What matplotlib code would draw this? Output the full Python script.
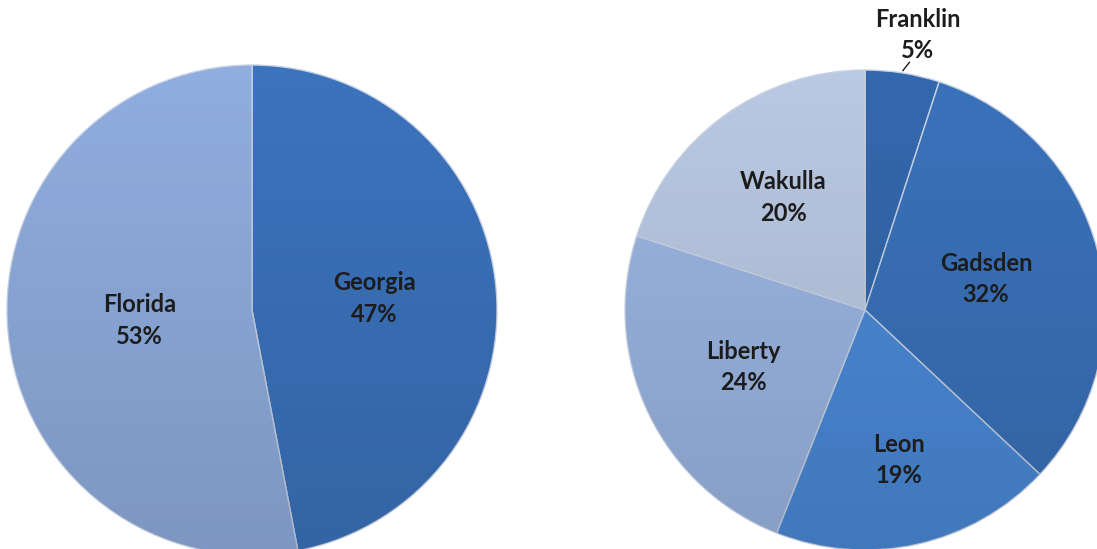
import numpy as np
import matplotlib
matplotlib.use('Agg')
import matplotlib.pyplot as plt
from matplotlib.patches import Circle

plt.rcParams['font.family'] = ['Lato', 'DejaVu Sans']

# data
states = ['Georgia', 'Florida']
state_pct = [47, 53]
counties = ['Franklin', 'Gadsden', 'Leon', 'Liberty', 'Wakulla']
county_pct = [5, 32, 19, 24, 20]

# styles
state_colors = ['#3b73bd', '#8fadde']
county_colors = ['#3468ad', '#3a72ba', '#4b8ad8', '#9bb6e2', '#b9c9e2']
state_label_r = [0.50, 0.46]
county_label_r = [1.15, 0.52, 0.64, 0.56, 0.58]

W, H = 1097, 549
fig = plt.figure(figsize=(W / 100, H / 100), dpi=100)


def pie_axes(cx, cy, r):
    ax = fig.add_axes([(cx - r) / W, (H - cy - r) / H, 2 * r / W, 2 * r / H])
    return ax


def draw_pie(ax, names, vals, colors, label_r):
    wedges, _ = ax.pie(vals, colors=colors, startangle=90, counterclock=False,
                       radius=1.0, wedgeprops=dict(edgecolor='#c9d3e6', linewidth=1.0))
    ax.set_aspect('equal')
    ax.axis('off')
    # soft vertical shading like the office style
    grad = np.linspace(0, 1, 256)[:, None]
    shade = np.zeros((256, 1, 4))
    shade[..., 3] = 0.13 * grad
    im = ax.imshow(shade, extent=[-1, 1, -1, 1], origin='upper', aspect='auto', zorder=2)
    im.set_clip_path(Circle((0, 0), 1.0, transform=ax.transData))
    ax.set_xlim(-1, 1)
    ax.set_ylim(-1, 1)
    for w, name, v, rr in zip(wedges, names, vals, label_r):
        ang = np.deg2rad((w.theta1 + w.theta2) / 2)
        c, s = np.cos(ang), np.sin(ang)
        x, y = rr * c, rr * s
        if rr > 1:
            # outside label with a short leader line
            x += 0.04
            y += 0.01
            ax.plot([1.01 * c, 1.055 * c + 0.02], [1.01 * s, 1.045 * s],
                    color='#1c1c1c', lw=1, zorder=5, clip_on=False)
        ax.text(x, y, f'{name}\n{v}%', ha='center', va='center', fontsize=17,
                fontweight='bold', color='#1c1c1c', linespacing=1.45, zorder=5,
                clip_on=False)
    return wedges


ax1 = pie_axes(252, 310, 245)
draw_pie(ax1, states, state_pct, state_colors, state_label_r)

ax2 = pie_axes(865, 310, 240)
draw_pie(ax2, counties, county_pct, county_colors, county_label_r)

fig.savefig('out.png', dpi=100)
